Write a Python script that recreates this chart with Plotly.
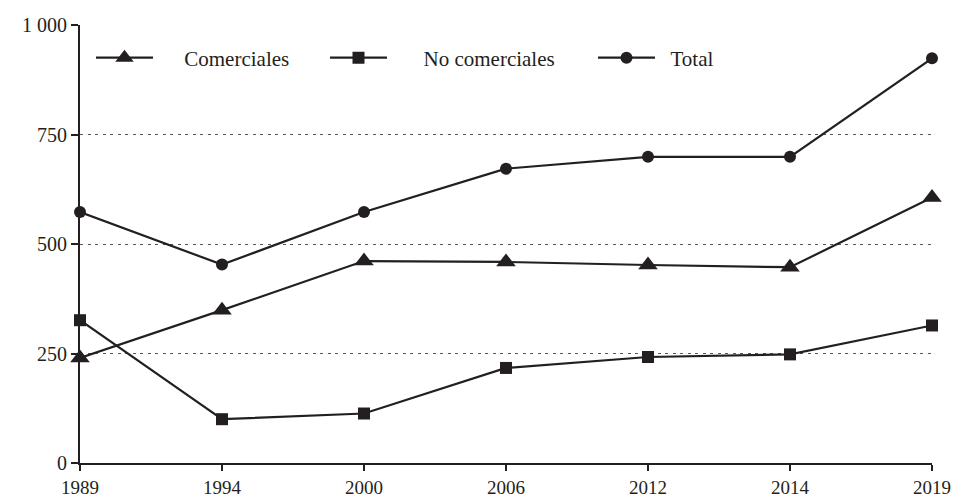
import plotly.graph_objects as go

years = ["1989", "1994", "2000", "2006", "2012", "2014", "2019"]
comerciales = [240, 349, 461, 459, 452, 447, 606]
no_comerciales = [326, 100, 113, 217, 242, 248, 314]
total = [573, 453, 573, 672, 699, 699, 924]
y_ticks = [0, 250, 500, 750, 1000]
y_ticktext = ["0", "250", "500", "750", "1 000"]

x = list(range(len(years)))
ink = "#231f20"
font = "Liberation Serif"

# page body has an 8px margin; compensate so the plot sits where the reference has it
W, H = 951, 490
L, T = 72, 17
PW, PH = 852, 438

fig = go.Figure()
series = [
    ("Comerciales", comerciales, "triangle-up", 17, "legend", 96, 5),
    ("No comerciales", no_comerciales, "square", 12, "legend2", 330, 6),
    ("Total", total, "circle", 12, "legend3", 598, 2),
]
legends = {}
for name, vals, sym, sz, lg, lx, npad in series:
    fig.add_trace(go.Scatter(
        x=x, y=vals, name="\u00a0" * npad + name, mode="lines+markers",
        line=dict(color=ink, width=2.2),
        marker=dict(symbol=sym, size=sz, color=ink),
        cliponaxis=False, legend=lg,
    ))
    legends[lg] = dict(
        orientation="h", x=(lx - 5 - 80) / PW, y=(463 - 58) / PH,
        xanchor="left", yanchor="middle",
        bgcolor="rgba(0,0,0,0)", font=dict(family=font, size=21, color=ink),
        itemwidth=57,
    )

fig.update_layout(
    width=W, height=H,
    margin=dict(l=L, r=W - L - PW, t=T, b=H - T - PH, autoexpand=False),
    plot_bgcolor="white", paper_bgcolor="white",
    font=dict(family=font, size=20, color=ink),
    showlegend=True,
    **legends,
    xaxis=dict(
        range=[0, 6], tickvals=x, ticktext=years, automargin=False,
        showgrid=False, zeroline=False, showline=True, linecolor=ink, linewidth=2,
        ticks="outside", ticklen=6, tickwidth=1.5, tickcolor=ink,
        tickfont=dict(family=font, size=19, color=ink),
    ),
    yaxis=dict(
        range=[0, 1000], tickvals=y_ticks, ticktext=y_ticktext, automargin=False,
        showgrid=True, gridcolor="#555555", griddash="3px,4.5px", gridwidth=1.2,
        zeroline=False, showline=True, linecolor=ink, linewidth=2,
        ticks="outside", ticklen=7, tickwidth=1.5, tickcolor=ink,
        tickfont=dict(family=font, size=20, color=ink),
    ),
)

fig.write_html("out.html")
